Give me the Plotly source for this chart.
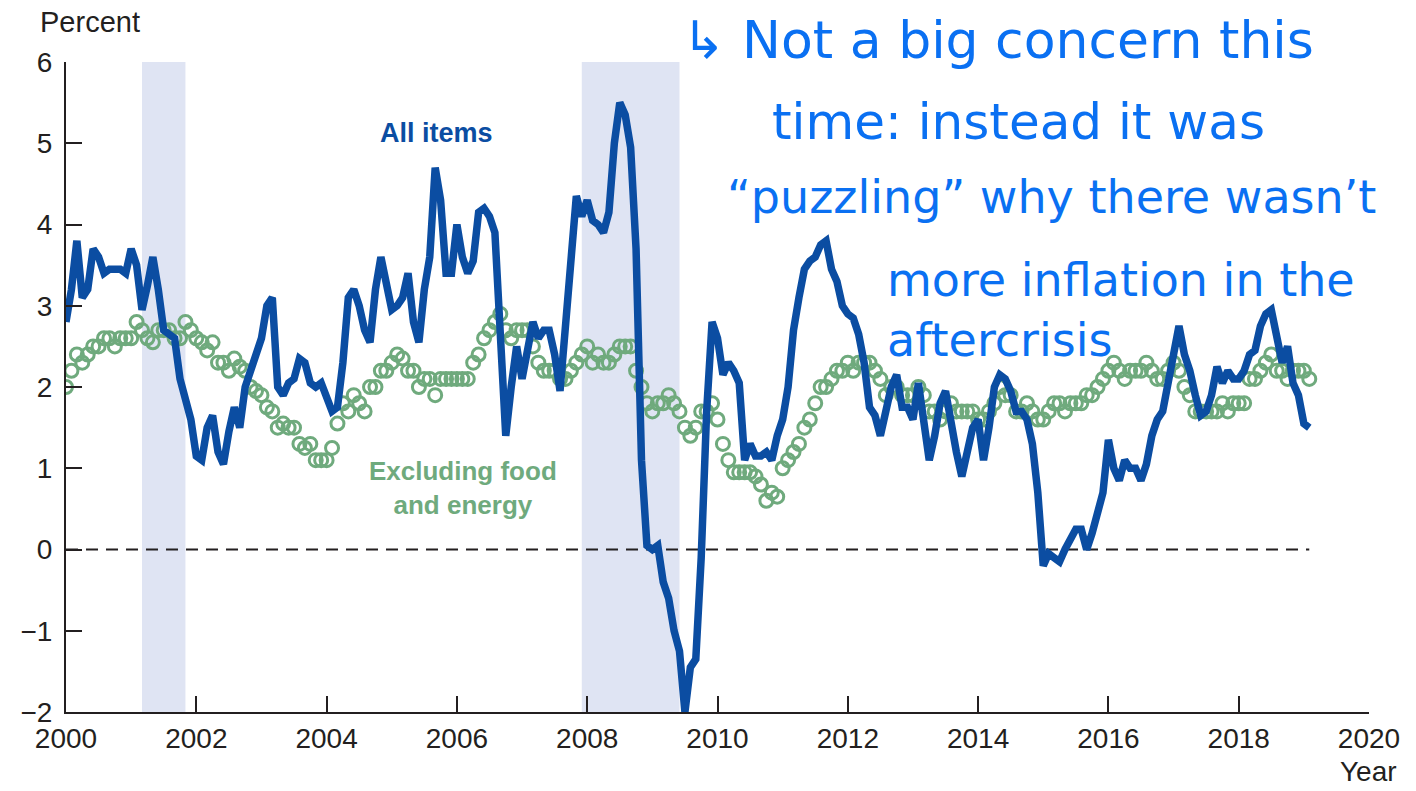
import numpy as np
import plotly.graph_objects as go

# Consumer prices, percent change from a year earlier, monthly Jan 2000 - Feb 2019
start_year = 2000

all_items = [
    2.8, 3.2, 3.8, 3.1, 3.2, 3.7, 3.6, 3.4, 3.45, 3.45, 3.45, 3.4,     # 2000
    3.7, 3.5, 2.95, 3.25, 3.6, 3.2, 2.7, 2.65, 2.6, 2.1, 1.85, 1.6,    # 2001
    1.15, 1.1, 1.5, 1.65, 1.2, 1.05, 1.45, 1.75, 1.5, 2.0, 2.2, 2.4,   # 2002
    2.6, 3.0, 3.1, 2.0, 1.9, 2.05, 2.1, 2.35, 2.3, 2.05, 2.0, 2.05,    # 2003
    1.9, 1.7, 1.75, 2.3, 3.1, 3.2, 3.0, 2.7, 2.55, 3.2, 3.6, 3.3,      # 2004
    2.95, 3.0, 3.1, 3.4, 2.8, 2.55, 3.2, 3.6, 4.7, 4.3, 3.4, 3.4,      # 2005
    4.0, 3.6, 3.4, 3.55, 4.15, 4.2, 4.1, 3.9, 2.6, 1.4, 2.0, 2.5,      # 2006
    2.1, 2.4, 2.8, 2.6, 2.7, 2.7, 2.4, 1.95, 2.8, 3.5, 4.35, 4.1,      # 2007
    4.3, 4.05, 4.0, 3.9, 4.15, 5.0, 5.5, 5.35, 4.95, 3.7, 1.1, 0.05,   # 2008
    0.0, 0.05, -0.4, -0.6, -1.0, -1.25, -2.0, -1.45, -1.35, -0.1, 1.7, 2.8,  # 2009
    2.6, 2.15, 2.3, 2.2, 2.05, 1.1, 1.3, 1.15, 1.15, 1.2, 1.1, 1.4,    # 2010
    1.6, 2.0, 2.7, 3.1, 3.45, 3.55, 3.6, 3.75, 3.8, 3.45, 3.3, 3.0,    # 2011
    2.9, 2.85, 2.65, 2.3, 1.75, 1.65, 1.4, 1.7, 2.0, 2.15, 1.75, 1.75, # 2012
    1.6, 2.05, 1.5, 1.1, 1.4, 1.8, 1.95, 1.5, 1.2, 0.9, 1.25, 1.5,     # 2013
    1.6, 1.1, 1.5, 2.0, 2.15, 2.1, 1.95, 1.7, 1.7, 1.6, 1.3, 0.7,      # 2014
    -0.2, -0.05, -0.1, -0.15, 0.0, 0.15, 0.25, 0.25, 0.0, 0.2, 0.5, 0.7,  # 2015
    1.35, 1.0, 0.85, 1.1, 1.0, 1.0, 0.85, 1.05, 1.4, 1.6, 1.7, 2.05,   # 2016
    2.5, 2.75, 2.4, 2.2, 1.9, 1.65, 1.7, 1.9, 2.25, 2.05, 2.2, 2.1,    # 2017
    2.1, 2.2, 2.4, 2.45, 2.75, 2.9, 2.95, 2.65, 2.3, 2.5, 2.05, 1.9,   # 2018
    1.55, 1.5,                                                         # 2019
]

core = [
    2.0, 2.2, 2.4, 2.3, 2.4, 2.5, 2.5, 2.6, 2.6, 2.5, 2.6, 2.6,        # 2000
    2.6, 2.8, 2.7, 2.6, 2.55, 2.7, 2.7, 2.7, 2.6, 2.6, 2.8, 2.7,       # 2001
    2.6, 2.55, 2.45, 2.55, 2.3, 2.3, 2.2, 2.35, 2.25, 2.2, 2.0, 1.95,  # 2002
    1.9, 1.75, 1.7, 1.5, 1.55, 1.5, 1.5, 1.3, 1.25, 1.3, 1.1, 1.1,     # 2003
    1.1, 1.25, 1.55, 1.8, 1.7, 1.9, 1.8, 1.7, 2.0, 2.0, 2.2, 2.2,      # 2004
    2.3, 2.4, 2.35, 2.2, 2.2, 2.0, 2.1, 2.1, 1.9, 2.1, 2.1, 2.1,       # 2005
    2.1, 2.1, 2.1, 2.3, 2.4, 2.6, 2.7, 2.8, 2.9, 2.7, 2.6, 2.7,        # 2006
    2.7, 2.7, 2.5, 2.3, 2.2, 2.2, 2.2, 2.1, 2.1, 2.2, 2.3, 2.4,        # 2007
    2.5, 2.3, 2.4, 2.3, 2.3, 2.4, 2.5, 2.5, 2.5, 2.2, 2.0, 1.8,        # 2008
    1.7, 1.8, 1.8, 1.9, 1.8, 1.7, 1.5, 1.4, 1.5, 1.7, 1.7, 1.8,        # 2009
    1.6, 1.3, 1.1, 0.95, 0.95, 0.95, 0.95, 0.9, 0.8, 0.6, 0.7, 0.65,   # 2010
    1.0, 1.1, 1.2, 1.3, 1.5, 1.6, 1.8, 2.0, 2.0, 2.1, 2.2, 2.2,        # 2011
    2.3, 2.2, 2.3, 2.3, 2.3, 2.2, 2.1, 1.9, 2.0, 2.0, 1.9, 1.9,        # 2012
    1.9, 2.0, 1.9, 1.7, 1.7, 1.6, 1.7, 1.8, 1.7, 1.7, 1.7, 1.7,        # 2013
    1.6, 1.6, 1.7, 1.8, 2.0, 1.9, 1.9, 1.7, 1.7, 1.8, 1.7, 1.6,        # 2014
    1.6, 1.7, 1.8, 1.8, 1.7, 1.8, 1.8, 1.8, 1.9, 1.9, 2.0, 2.1,        # 2015
    2.2, 2.3, 2.2, 2.1, 2.2, 2.2, 2.2, 2.3, 2.2, 2.1, 2.1, 2.2,        # 2016
    2.3, 2.2, 2.0, 1.9, 1.7, 1.7, 1.7, 1.7, 1.7, 1.8, 1.7, 1.8,        # 2017
    1.8, 1.8, 2.1, 2.1, 2.2, 2.3, 2.4, 2.2, 2.2, 2.1, 2.2, 2.2,        # 2018
    2.2, 2.1,                                                          # 2019
]

# NBER recessions (first month, last month)
recessions = [("2001-03", "2001-11"), ("2007-12", "2009-06")]

x_ticks = list(range(2000, 2021, 2))
y_ticks = [-2, -1, 0, 1, 2, 3, 4, 5, 6]

note_lines = [
    "\u21b3 Not a big concern this",
    "time: instead it was",
    "\u201cpuzzling\u201d why there wasn\u2019t",
    "more inflation in the<br>aftercrisis",
]

BLUE = "#0b4da2"
GREEN = "#6faa7d"
INK = "#231f20"
PEN = "#0a70f2"
SANS = "Liberation Sans, Arial, sans-serif"

months = start_year + np.arange(len(all_items)) / 12
core_months = start_year + np.arange(len(core)) / 12


def to_year(ym):
    y, m = ym.split("-")
    return int(y) + (int(m) - 1) / 12


# pixel position -> paper coords (plot area is 66..1369 x 62..712)
def px(x, y):
    return (x - 66) / 1303, (712 - y) / 650


def label(text, x, y, size, color, xanchor="center", family=SANS):
    xp, yp = px(x, y)
    fig.add_annotation(x=xp, y=yp, xref="paper", yref="paper", text=text,
                       showarrow=False, xanchor=xanchor, yanchor="middle",
                       align=xanchor if xanchor != "center" else "center",
                       font=dict(family=family, size=size, color=color))


fig = go.Figure()

for start, end in recessions:
    fig.add_vrect(x0=to_year(start), x1=to_year(end),
                  fillcolor="#dfe4f3", line_width=0, layer="below")

fig.add_trace(
    go.Scatter(x=[months[0], months[-1]], y=[0, 0], mode="lines",
               line=dict(color=INK, width=2, dash="12px,8px"),
               hoverinfo="skip"))

fig.add_trace(
    go.Scatter(x=core_months, y=core, mode="markers", name="Excluding food and energy",
               marker=dict(symbol="circle-open", size=13, color=GREEN,
                           line=dict(width=3, color=GREEN))))

fig.add_trace(
    go.Scatter(x=months, y=all_items, mode="lines", name="All items",
               line=dict(color=BLUE, width=7.5, shape="linear")))

fig.update_layout(width=1416, height=791,
                  margin=dict(l=66, r=47, t=62, b=79, autoexpand=False),
                  plot_bgcolor="white", paper_bgcolor="white",
                  showlegend=False,
                  font=dict(family=SANS, size=28, color=INK))

axis_style = dict(showline=True, linewidth=2, linecolor=INK,
                  ticks="inside", ticklen=16, tickwidth=2, tickcolor=INK,
                  showgrid=False, zeroline=False, automargin=False,
                  tickfont=dict(family=SANS, size=28, color=INK))
fig.update_xaxes(range=[2000, 2020], tickvals=x_ticks, ticklabelstandoff=0, **axis_style)
fig.update_yaxes(range=[-2, 6], tickvals=y_ticks, ticklabelstandoff=6, **axis_style)

# axis titles
label("Percent", 38, 22, 29, INK, xanchor="left")
label("Year", 1338, 771, 28, INK, xanchor="left")

# series labels
label("<b>All items</b>", 436, 133, 27, BLUE)
label("<b>Excluding food<br>and energy</b>", 463, 488, 26, GREEN)

# handwritten note
note_pos = [(680, 40, 52), (770, 122, 50), (725, 197, 46), (885, 310, 46)]
for line, (nx, ny, size) in zip(note_lines, note_pos):
    label(line, nx, ny, size, PEN, xanchor="left", family="DejaVu Sans")

fig.write_html("out.html", config={"displayModeBar": False},
               post_script="document.body.style.margin='0px';")
